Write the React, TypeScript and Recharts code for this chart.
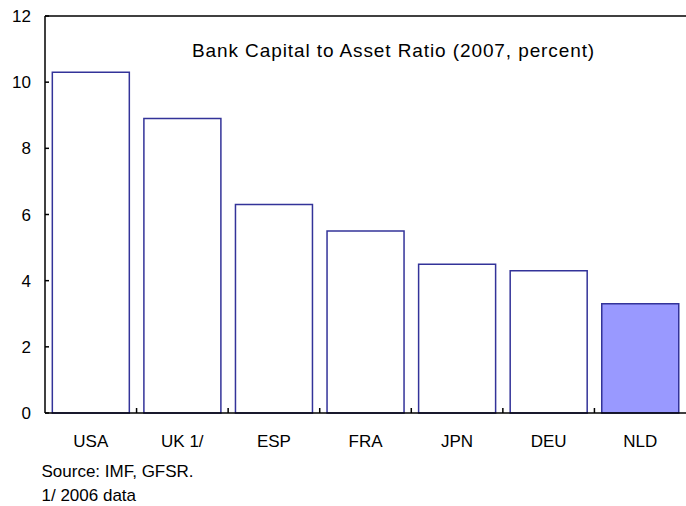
import React from "react";
import { BarChart, Bar, XAxis, YAxis, Cell, ReferenceLine } from "recharts";

const categories = ["USA", "UK 1/", "ESP", "FRA", "JPN", "DEU", "NLD"];
const ratios = [10.3, 8.9, 6.3, 5.5, 4.5, 4.3, 3.3];
const fills = ["#ffffff", "#ffffff", "#ffffff", "#ffffff", "#ffffff", "#ffffff", "#9999ff"];
const yTicks = [0, 2, 4, 6, 8, 10, 12];
const title = "Bank Capital to Asset Ratio (2007, percent)";
const notes = ["Source: IMF, GFSR.", "1/ 2006 data"];

const data = categories.map((c, i) => ({ name: c, value: ratios[i] }));

const W = 686;
const H = 506;
const LEFT = 45;
const BAND = (W - LEFT) / categories.length;
const FONT = "'Liberation Sans', Arial, Helvetica, sans-serif";

const YTick = (props: any) => {
  const { x, y, payload } = props;
  return (
    <g>
      <line x1={x} y1={y} x2={x + 4} y2={y} stroke="#000" strokeWidth={1.5} />
      <text x={x - 14} y={y} dy="0.36em" textAnchor="end" fontSize={17} fill="#000" fontFamily={FONT}>
        {payload.value}
      </text>
    </g>
  );
};

const XTick = (props: any) => {
  const { x, y, payload, index } = props;
  return (
    <g>
      {index < categories.length - 1 && (
        <line x1={x + BAND / 2} y1={y} x2={x + BAND / 2} y2={y - 5} stroke="#000" strokeWidth={1.5} />
      )}
      <text x={x} y={y + 33.5} textAnchor="middle" fontSize={17} fill="#000" fontFamily={FONT}>
        {payload.value}
      </text>
    </g>
  );
};

export default function App() {
  return (
    <div style={{ position: "absolute", left: 0, top: 0, width: W, height: H, background: "#fff" }}>
      <BarChart
        width={W}
        height={H}
        data={data}
        margin={{ top: 16, right: 0, bottom: 63, left: 0 }}
        barCategoryGap="8%"
      >
        <XAxis
          dataKey="name"
          height={30}
          interval={0}
          tickSize={0}
          tickMargin={0}
          tickLine={false}
          axisLine={{ stroke: "#000", strokeWidth: 1.5 }}
          tick={<XTick />}
        />
        <YAxis
          width={LEFT}
          domain={[0, 12]}
          ticks={yTicks}
          interval={0}
          tickSize={0}
          tickMargin={0}
          tickLine={false}
          axisLine={{ stroke: "#000", strokeWidth: 1.5 }}
          tick={<YTick />}
        />
        <ReferenceLine y={12} stroke="#000" strokeWidth={1.5} ifOverflow="visible" />
        <Bar dataKey="value" stroke="#333399" strokeWidth={1.5} isAnimationActive={false}>
          {data.map((d, i) => (
            <Cell key={d.name} fill={fills[i]} />
          ))}
        </Bar>
      </BarChart>
      <svg
        width={W}
        height={H}
        style={{ position: "absolute", left: 0, top: 0, pointerEvents: "none" }}
      >
        <text x={192} y={57} fontSize={19} letterSpacing={0.9} fill="#000" fontFamily={FONT}>
          {title}
        </text>
        <text x={41.5} y={476.5} fontSize={17} fill="#000" fontFamily={FONT}>
          {notes[0]}
        </text>
        <text x={41.5} y={500.5} fontSize={17} fill="#000" fontFamily={FONT}>
          {notes[1]}
        </text>
      </svg>
    </div>
  );
}
